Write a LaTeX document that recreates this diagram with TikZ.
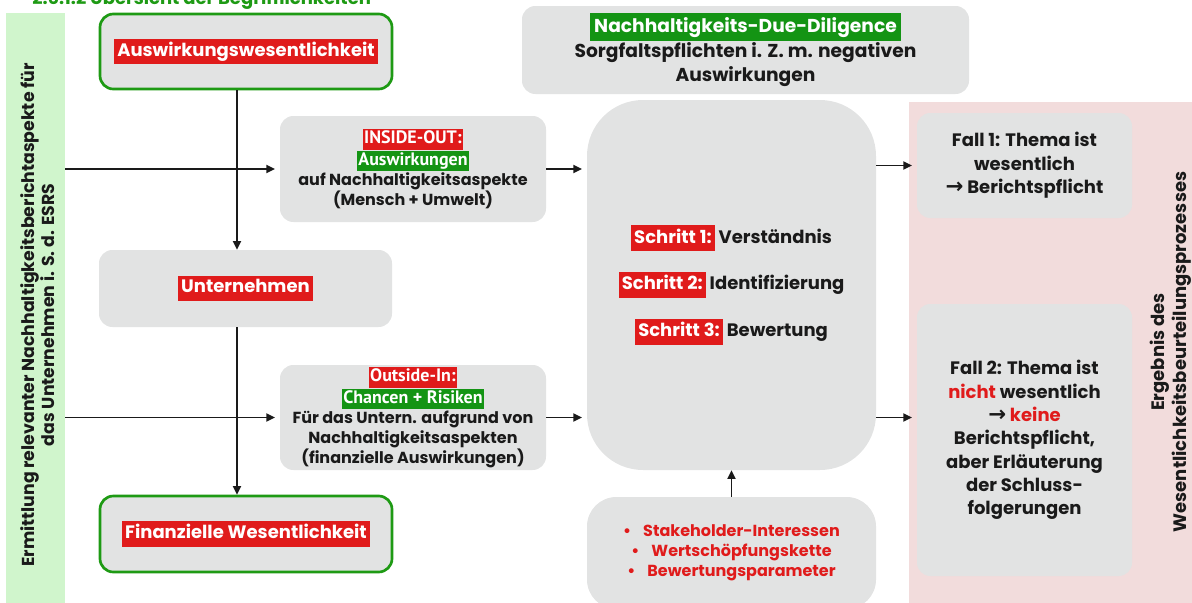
\documentclass[tikz,border=0pt]{standalone}
\usepackage{fontspec}
\setmainfont{Poppins}
\newfontfamily\narrowfont{PT Sans}
\newfontfamily\symfont{DejaVu Sans}
\usetikzlibrary{arrows.meta}
\definecolor{boxgray}{HTML}{E2E3E3}
\definecolor{hred}{HTML}{E01B1B}
\definecolor{hgreen}{HTML}{149414}
\definecolor{bordergreen}{HTML}{1E9A14}
\definecolor{barGreen}{HTML}{D0F5CC}
\definecolor{pinkbg}{HTML}{F2DCDC}
\definecolor{txt}{HTML}{1A1A1A}
\newcommand{\hlr}[1]{\colorbox{hred}{\textcolor{white}{\vphantom{Ag}#1}}}
\newcommand{\hlg}[1]{\colorbox{hgreen}{\textcolor{white}{\vphantom{Ag}#1}}}
\newcommand{\nhl}[1]{{\fontsize{13.5}{15}\selectfont\narrowfont #1}}
\newcommand{\rarr}{{\symfont\bfseries\fontsize{16}{16}\selectfont →}}
\begin{document}
\begin{tikzpicture}[x=0.75pt,y=-0.75pt,
  box/.style={fill=boxgray, rounded corners=10pt, inner sep=0pt, align=center, text=txt},
  gbox/.style={box, draw=bordergreen, line width=2pt},
  arr/.style={-{Triangle[length=6.5pt,width=6pt]}, line width=1.3pt, draw=txt},
  fbody/.style={font=\fontsize{12}{15}\selectfont\bfseries\setlength{\fboxsep}{1.2pt}},
  fbig/.style={font=\fontsize{13.5}{18}\selectfont\bfseries\setlength{\fboxsep}{2.4pt}},
]
\useasboundingbox (0,0) rectangle (1192,603);
\clip (0,0) rectangle (1192,603);

% backgrounds
\fill[pinkbg] (909,102) rectangle (1200,615);
\node[fill=barGreen, minimum width=44.25pt, minimum height=447.75pt, inner sep=0pt] (bar) at (35.5,311.5) {};
\node[rotate=90, align=center, text=txt, font=\fontsize{13}{15.5}\selectfont\bfseries] (bartxt) at (37.5,315)
  {Ermittlung relevanter Nachhaltigkeitsberichtaspekte für\\das Unternehmen i. S. d. ESRS};
\node[rotate=90, align=center, text=txt, font=\fontsize{13.5}{16.5}\selectfont\bfseries] (pinktxt) at (1171,352)
  {Ergebnis des\\Wesentlichkeitsbeurteilungsprozesses};

% title (cut at top, as in the reference)
\node[anchor=base west, inner sep=0pt, text=bordergreen, font=\fontsize{13.5}{13.5}\selectfont\bfseries] (title) at (32,4.5)
  {2.6.1.2 Übersicht der Begrifflichkeiten};

% left column
\node[gbox, fbig, minimum width=219pt, minimum height=56.25pt] (aus) at (246,51.5) {\hlr{Auswirkungswesentlichkeit}};
\node[box, fbig, minimum width=219.75pt, minimum height=57.75pt] (unt) at (245.5,288.5) {\hlr{Unternehmen}};
\node[gbox, fbig, minimum width=219pt, minimum height=57pt] (fin) at (246,534) {\hlr{Finanzielle Wesentlichkeit}};

% middle column
\node[box, fbody, minimum width=199.5pt, minimum height=79.5pt] (io) at (413,169)
  {\hlr{\nhl{INSIDE-OUT:}}\\\hlg{\nhl{Auswirkungen}}\\auf Nachhaltigkeitsaspekte\\(Mensch + Umwelt)};
\node[box, fbody, minimum width=199.5pt, minimum height=78.75pt] (oi) at (413,417.5)
  {\hlr{\nhl{Outside-In:}}\\\hlg{\nhl{Chancen + Risiken}}\\Für das Untern. aufgrund von\\Nachhaltigkeitsaspekten\\(finanzielle Auswirkungen)};

% top box
\node[box, fbig, font=\fontsize{14}{18}\selectfont\bfseries, minimum width=335.25pt, minimum height=66pt] (top) at (745.5,50)
  {\hlg{Nachhaltigkeits-Due-Diligence}\\Sorgfaltspflichten i. Z. m. negativen\\Auswirkungen};

% big box
\node[box, rounded corners=42pt, minimum width=216.75pt, minimum height=277.5pt,
      font=\fontsize{13.5}{35}\selectfont\bfseries\setlength{\fboxsep}{2.4pt}] (big) at (731.5,285)
  {\hlr{Schritt 1:} Verständnis\\\hlr{Schritt 2:} Identifizierung\\\hlr{Schritt 3:} Bewertung};

% bottom box
\node[box, rounded corners=22pt, fbody, text=hred, minimum width=216.75pt, minimum height=84pt] (bot) at (731.5,553)
  {\textbullet\hspace{9pt}Stakeholder-Interessen\\\textbullet\hspace{9pt}Wertschöpfungskette\\\textbullet\hspace{9pt}Bewertungsparameter};

% right column
\node[box, font=\fontsize{13.5}{17.5}\selectfont\bfseries, minimum width=161.25pt, minimum height=78.75pt] (f1) at (1024.5,165.5)
  {Fall 1: Thema ist\\wesentlich\\\rarr\ Berichtspflicht};
\node[box, font=\fontsize{13.5}{17.5}\selectfont\bfseries, minimum width=161.25pt, minimum height=204pt] (f2) at (1024.5,440)
  {Fall 2: Thema ist\\\textcolor{hred}{nicht} wesentlich\\\rarr\ \textcolor{hred}{keine}\\Berichtspflicht,\\aber Erläuterung\\der Schluss-\\folgerungen};

% connectors
\coordinate (vx) at (237,0);
\draw[arr] (aus.south -| vx) -- (unt.north -| vx);
\draw[arr] (unt.south -| vx) -- (fin.north -| vx);
\draw[arr, shorten >=3.5pt] (bar.east |- io.west) -- (io.west);
\draw[arr, shorten >=3.5pt] (bar.east |- oi.west) -- (oi.west);
\draw[arr, shorten >=3.5pt] (io.east) -- (io.east -| big.west);
\draw[arr, shorten >=3.5pt] (oi.east) -- (oi.east -| big.west);
\draw[arr, shorten >=3.5pt] (f1.west -| big.east) -- (f1.west);
\draw[arr, shorten >=3.5pt] (oi.east -| big.east) -- (oi.east -| f2.west);
\draw[arr] (bot.north) -- (big.south);
\end{tikzpicture}
\end{document}
